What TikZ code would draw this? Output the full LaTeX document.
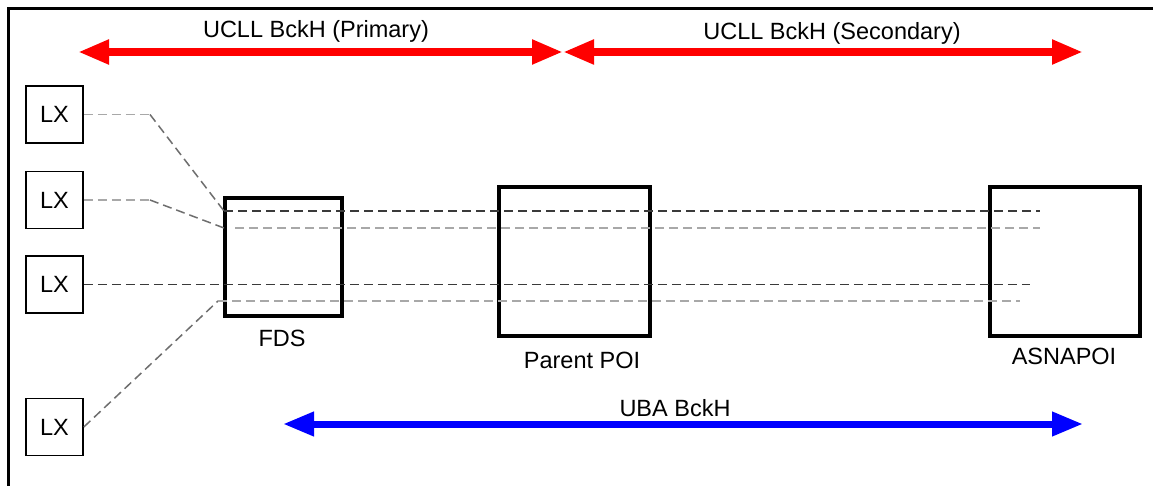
\documentclass[tikz,border=0pt]{standalone}
\usepackage{fontspec}
\setmainfont{Liberation Sans}
\usetikzlibrary{arrows.meta}
\definecolor{lightline}{HTML}{A8A8A8}
\definecolor{midline}{HTML}{6E6E6E}
\definecolor{darkline}{HTML}{3A3A3A}
\definecolor{bandred}{HTML}{FF0000}
\definecolor{bandblue}{HTML}{0000FF}
\tikzset{
  x=1pt, y=-1pt,
  txt/.style={font=\fontsize{23.5}{28}\selectfont, inner sep=0pt},
  lxbox/.style={draw, line width=1.6pt, minimum width=57pt, minimum height=57pt, inner sep=0pt, txt},
  sitebox/.style={draw, line width=4.5pt, inner sep=0pt},
  sitelabel/.style={txt, anchor=base},
  fibre/.style={dashed, dash pattern=on 9pt off 5pt, line width=1.5pt},
  band/.style={line width=8pt, {Triangle[length=31pt,width=23pt]}-{Triangle[length=31pt,width=23pt]}},
}
\begin{document}
\begin{tikzpicture}
\useasboundingbox (0,0) rectangle (1153,486);
\clip (0,0) rectangle (1153,486);
\fill[white] (0,0) rectangle (1153,486);
% outer frame (runs past the right and bottom edges)
\draw[line width=3pt] (8,9) rectangle (1220,560);

% access nodes
\node[lxbox] (lx1) at (54.5,114.5) {LX};
\node[lxbox] (lx2) at (54.5,200) {LX};
\node[lxbox] (lx3) at (54.5,284.5) {LX};
\node[lxbox] (lx4) at (54.5,427) {LX};

% sites
\node[sitebox, minimum width=117pt, minimum height=118pt] (fds) at (283.5,257) {};
\node[sitebox, minimum width=151pt, minimum height=149pt] (ppoi) at (574.5,261.5) {};
\node[sitebox, minimum width=150pt, minimum height=149pt] (asna) at (1065,261.5) {};
\node[sitelabel] (fdsl) at (282,346) {FDS};
\node[sitelabel] (ppoil) at (582,368) {Parent POI};
\node[sitelabel] (asnal) at (1064,364) {ASNAPOI};

% fibre routes
\coordinate (k1) at (150,114.5);
\coordinate (j1) at (224,211);
\coordinate (e1) at (1040,211);
\coordinate (k2) at (150,200);
\coordinate (j2) at (224,228);
\coordinate (s2) at (235,228);
\coordinate (e2) at (1040,228);
\coordinate (e3) at (1030,284.5);
\coordinate (j4) at (218,301);
\coordinate (e4) at (1020,301);

\draw[fibre, lightline] (lx1.east) -- (k1);
\draw[fibre, midline] (k1) -- (j1);
\draw[fibre, darkline] (j1) -- (e1);
\draw[fibre, lightline] (lx2.east) -- (k2);
\draw[fibre, midline] (k2) -- (j2);
\draw[fibre, lightline] (s2) -- (e2);
\draw[fibre, darkline] (lx3.east) -- (e3);
\draw[fibre, midline] (lx4.east) -- (j4);
\draw[fibre, lightline] (j4) -- (e4);

% backhaul spans
\coordinate (p1) at (78,52);
\coordinate (p2) at (563,52);
\coordinate (p3) at (1083,52);
\coordinate (b1) at (283,424);
\coordinate (b2) at (1083,424);
\draw[band, bandred] (p1) -- (p2);
\draw[band, bandred] (p2) -- (p3);
\draw[band, bandblue, line width=7pt] (b1) -- (b2);
\node[sitelabel] (prim) at (316,38) {UCLL BckH (Primary)};
\node[sitelabel] (sec) at (832,40) {UCLL BckH (Secondary)};
\node[sitelabel] (uba) at (675,416) {UBA BckH};
\end{tikzpicture}
\end{document}
